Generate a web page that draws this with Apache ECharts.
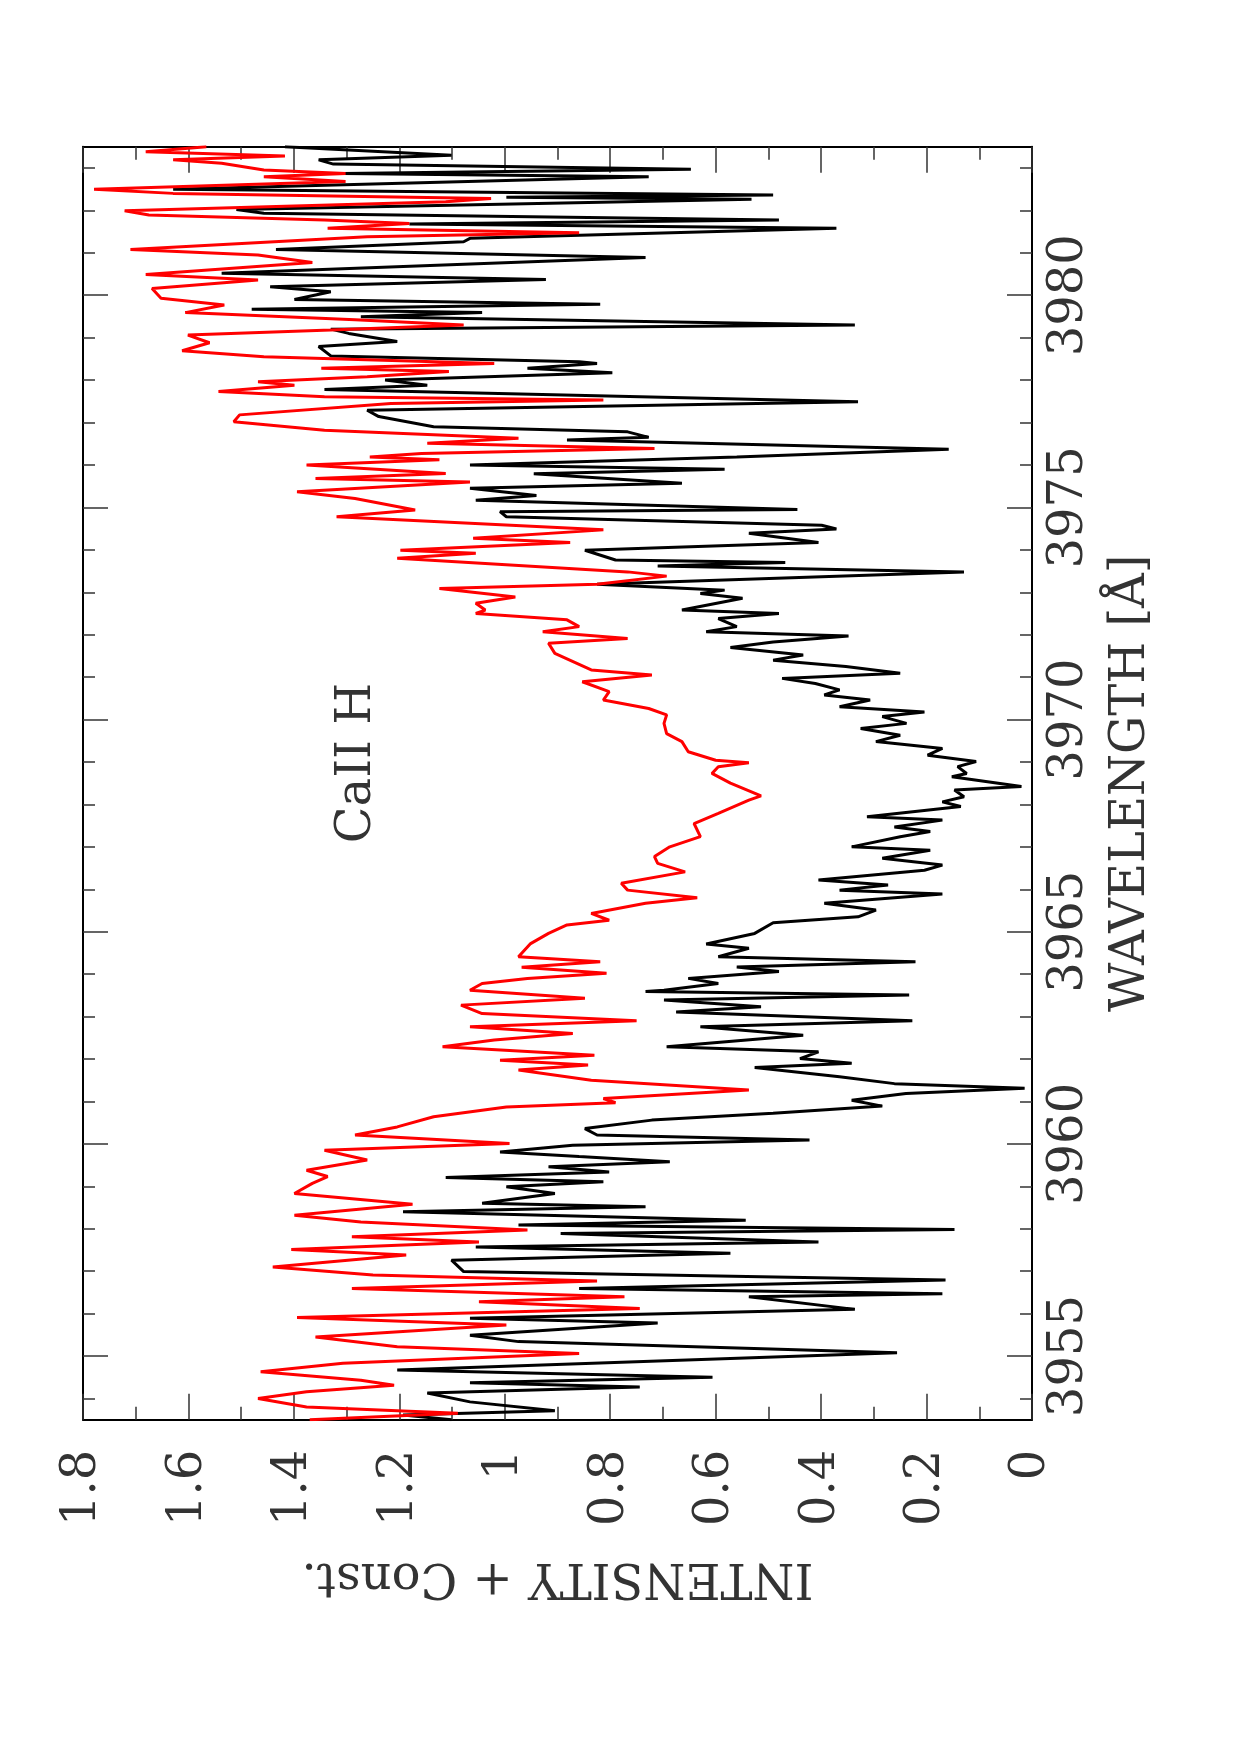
<!DOCTYPE html>
<html>
<head>
<meta charset="utf-8">
<script src="https://cdn.jsdelivr.net/npm/echarts@6/dist/echarts.min.js"></script>
<style>
html,body{margin:0;padding:0;background:#fff;}
#chart{width:1240px;height:1755px;}
</style>
</head>
<body>
<div id="chart"></div>
<script>
// ---- data (wavelength in Angstrom, intensity + const.) ----
const wavelengthBlack = [3983.50,3983.30,3983.19,3983.09,3982.97,3982.87,3982.79,3982.50,3982.36,3982.31,3982.26,3982.02,3981.93,3981.77,3981.68,3981.58,3981.34,3981.26,3981.08,3980.89,3980.52,3980.37,3980.20,3980.08,3979.90,3979.79,3979.67,3979.59,3979.49,3979.30,3979.20,3979.10,3978.91,3978.79,3978.57,3978.43,3978.39,3978.28,3978.17,3978.00,3977.88,3977.78,3977.49,3977.29,3977.14,3976.90,3976.78,3976.65,3976.59,3976.37,3976.19,3976.00,3975.90,3975.79,3975.57,3975.45,3975.28,3975.17,3974.95,3974.90,3974.78,3974.58,3974.49,3974.39,3974.17,3973.99,3973.76,3973.70,3973.62,3973.48,3973.19,3973.05,3972.97,3972.86,3972.58,3972.50,3972.38,3972.19,3972.07,3971.97,3971.83,3971.70,3971.52,3971.40,3971.25,3971.09,3970.97,3970.85,3970.70,3970.58,3970.46,3970.30,3970.18,3970.07,3969.91,3969.79,3969.63,3969.48,3969.32,3969.16,3969.01,3968.89,3968.73,3968.65,3968.42,3968.34,3968.18,3968.06,3967.95,3967.71,3967.63,3967.47,3967.36,3967.24,3967.00,3966.92,3966.73,3966.57,3966.45,3966.22,3966.10,3965.98,3965.89,3965.67,3965.51,3965.35,3965.21,3964.96,3964.71,3964.61,3964.41,3964.29,3964.17,3964.06,3963.90,3963.78,3963.62,3963.59,3963.51,3963.39,3963.23,3963.11,3962.90,3962.76,3962.56,3962.29,3962.17,3962.01,3961.90,3961.80,3961.58,3961.42,3961.31,3961.19,3961.03,3960.89,3960.72,3960.56,3960.36,3960.21,3960.09,3959.97,3959.81,3959.70,3959.58,3959.46,3959.34,3959.21,3959.11,3958.99,3958.83,3958.60,3958.52,3958.40,3958.20,3958.09,3957.98,3957.89,3957.69,3957.57,3957.42,3957.26,3956.99,3956.79,3956.59,3956.47,3956.40,3956.10,3955.89,3955.78,3955.49,3955.34,3955.08,3954.67,3954.50,3954.37,3954.27,3954.13,3953.92,3953.71,3953.61,3953.50];
const intensityBlack = [1.417,1.101,1.353,1.325,0.647,1.307,0.727,1.629,0.491,0.997,0.532,1.509,1.457,0.480,1.181,0.371,1.066,1.078,1.434,0.733,1.537,0.922,1.445,1.330,1.399,0.819,1.480,1.043,1.273,0.336,1.330,1.296,1.204,1.353,1.330,0.859,0.825,0.957,0.796,1.227,1.147,1.342,0.330,1.261,1.239,1.135,0.767,0.727,0.882,0.158,0.560,1.066,0.583,0.945,0.664,1.066,0.940,1.055,0.445,1.009,0.997,0.399,0.371,0.537,0.405,0.848,0.790,0.468,0.710,0.129,0.825,0.583,0.629,0.549,0.664,0.480,0.595,0.560,0.618,0.348,0.491,0.572,0.434,0.491,0.353,0.250,0.474,0.411,0.365,0.394,0.307,0.365,0.204,0.284,0.238,0.325,0.250,0.296,0.170,0.198,0.106,0.141,0.124,0.152,0.020,0.147,0.129,0.170,0.135,0.313,0.170,0.261,0.193,0.250,0.342,0.193,0.284,0.170,0.204,0.405,0.273,0.365,0.170,0.394,0.296,0.330,0.491,0.526,0.618,0.537,0.595,0.221,0.560,0.480,0.652,0.595,0.698,0.733,0.233,0.698,0.514,0.675,0.227,0.629,0.434,0.693,0.405,0.440,0.342,0.526,0.365,0.261,0.014,0.239,0.342,0.284,0.491,0.721,0.848,0.825,0.422,0.871,1.009,0.859,0.687,0.917,0.802,1.112,0.813,0.997,0.905,1.043,0.733,1.193,0.543,0.974,0.147,0.894,0.405,1.055,0.572,1.101,1.078,0.164,0.859,0.170,0.537,0.336,1.066,0.710,1.066,0.974,0.256,1.204,0.606,1.066,0.744,1.147,1.066,0.905,1.193,1.101];

const wavelengthRed = [3983.50,3983.38,3983.28,3983.19,3983.11,3982.95,3982.87,3982.79,3982.68,3982.50,3982.40,3982.28,3982.20,3981.99,3981.89,3981.77,3981.69,3981.58,3981.47,3981.38,3981.08,3980.95,3980.77,3980.49,3980.36,3980.16,3979.93,3979.77,3979.59,3979.42,3979.30,3979.18,3979.06,3978.88,3978.69,3978.55,3978.39,3978.28,3978.20,3978.08,3977.96,3977.88,3977.73,3977.61,3977.53,3977.45,3977.18,3977.02,3976.82,3976.63,3976.51,3976.39,3976.27,3976.19,3976.12,3976.00,3975.80,3975.68,3975.60,3975.37,3975.21,3974.94,3974.78,3974.47,3974.27,3974.17,3973.99,3973.92,3973.80,3973.48,3973.38,3973.19,3973.09,3972.89,3972.74,3972.58,3972.50,3972.35,3972.19,3972.07,3971.91,3971.80,3971.56,3971.17,3971.05,3970.89,3970.66,3970.46,3970.26,3970.11,3969.91,3969.67,3969.48,3969.24,3969.04,3968.98,3968.89,3968.73,3968.50,3968.20,3968.10,3967.79,3967.55,3967.24,3967.00,3966.77,3966.61,3966.41,3966.14,3965.98,3965.80,3965.67,3965.43,3965.27,3965.16,3964.96,3964.72,3964.41,3964.29,3964.16,3964.02,3963.90,3963.78,3963.62,3963.43,3963.27,3963.07,3962.90,3962.76,3962.60,3962.45,3962.29,3962.09,3961.97,3961.86,3961.74,3961.50,3961.27,3961.07,3960.97,3960.87,3960.64,3960.40,3960.21,3960.01,3959.85,3959.62,3959.38,3959.23,3959.07,3958.83,3958.58,3958.32,3958.16,3957.97,3957.81,3957.69,3957.51,3957.38,3957.10,3956.91,3956.77,3956.59,3956.40,3956.28,3956.12,3955.91,3955.73,3955.45,3955.22,3955.06,3954.83,3954.63,3954.43,3954.31,3954.16,3954.00,3953.80,3953.65,3953.50];
const intensityRed = [1.566,1.681,1.417,1.629,1.537,1.457,1.302,1.457,1.302,1.779,1.629,1.026,1.112,1.721,1.675,1.342,1.181,1.336,0.859,1.261,1.710,1.468,1.365,1.681,1.468,1.669,1.652,1.532,1.606,1.284,1.078,1.330,1.601,1.560,1.612,1.457,1.020,1.348,1.106,1.261,1.468,1.399,1.543,1.342,0.813,1.216,1.503,1.514,1.342,0.974,1.147,0.716,1.158,1.256,1.124,1.376,1.112,1.359,1.066,1.394,1.284,1.170,1.319,0.813,1.060,0.876,1.198,1.055,1.204,0.767,0.693,0.825,1.124,0.980,1.055,1.037,1.055,0.882,0.859,0.928,0.767,0.917,0.905,0.836,0.721,0.853,0.802,0.813,0.727,0.693,0.698,0.693,0.664,0.652,0.600,0.537,0.595,0.607,0.572,0.514,0.537,0.595,0.641,0.629,0.687,0.716,0.710,0.658,0.779,0.767,0.635,0.733,0.836,0.802,0.882,0.917,0.951,0.974,0.819,0.968,0.807,0.957,1.043,1.066,0.848,1.083,1.043,0.750,1.066,0.871,1.020,1.118,0.830,1.009,0.842,0.974,0.836,0.537,0.813,0.790,0.997,1.135,1.204,1.284,0.991,1.342,1.261,1.376,1.336,1.365,1.399,1.175,1.399,1.273,0.957,1.290,1.049,1.405,1.187,1.440,1.250,0.825,1.290,0.773,1.049,0.744,1.394,0.997,1.359,1.204,0.859,1.307,1.463,1.273,1.210,1.376,1.468,1.376,1.089,1.370];

// ---- axis ticks ----
const wavelengthTicks = [3955, 3960, 3965, 3970, 3975, 3980];
const wavelengthMinorTicks = [3954,3955,3956,3957,3958,3959,3960,3961,3962,3963,3964,3965,3966,3967,3968,3969,3970,3971,3972,3973,3974,3975,3976,3977,3978,3979,3980,3981,3982,3983];
const wavelengthRange = [3953.5, 3983.5];
const intensityRange = [0, 1.8];
const intensityStep = 0.2;

const titleText = 'CaII H';
const xName = 'INTENSITY + Const.';
const yName = 'WAVELENGTH [Å]';

const FONT = '"DejaVu Serif", "Liberation Serif", serif';
const TXT = '#333';
const lineCol = '#000';
const tickCol = '#333';

const blackData = wavelengthBlack.map((w, i) => [intensityBlack[i], w]);
const redData = wavelengthRed.map((w, i) => [intensityRed[i], w]);

const chart = echarts.init(document.getElementById('chart'), null, {renderer: 'canvas'});

function xAx(pos, withLabels) {
  return {
    type: 'value', position: pos, min: intensityRange[0], max: intensityRange[1],
    interval: intensityStep, inverse: true,
    axisLine: {show: true, onZero: false, lineStyle: {color: lineCol, width: 2}},
    axisTick: {show: true, inside: true, length: 26, lineStyle: {color: tickCol, width: 1.5}},
    minorTick: {show: true, splitNumber: 2, length: 13, lineStyle: {color: tickCol, width: 1.5}},
    splitLine: {show: false}, minorSplitLine: {show: false},
    axisLabel: withLabels ? {show: true, rotate: 90, margin: 30, fontFamily: FONT, fontSize: 48, color: TXT,
      showMinLabel: true, showMaxLabel: true, formatter: v => String(Math.round(v * 10) / 10)} : {show: false},
    name: withLabels ? xName : '', nameLocation: 'middle', nameRotate: 180, nameGap: 133,
    nameTextStyle: {fontFamily: FONT, fontSize: 48, color: TXT}
  };
}
function yAx(pos, ticks, len, withLabels, showLine) {
  return {
    type: 'value', position: pos, min: wavelengthRange[0], max: wavelengthRange[1],
    axisLine: {show: showLine, onZero: false, lineStyle: {color: lineCol, width: 2}},
    axisTick: {show: true, inside: true, length: len, customValues: ticks, lineStyle: {color: tickCol, width: 1.5}},
    splitLine: {show: false},
    axisLabel: withLabels ? {show: true, rotate: 90, margin: 14, customValues: ticks, fontFamily: FONT, fontSize: 48,
      color: TXT, formatter: v => String(v)} : {show: false},
    name: withLabels ? yName : '', nameLocation: 'middle', nameGap: 76,
    nameTextStyle: {fontFamily: FONT, fontSize: 48, color: TXT}
  };
}

chart.setOption({
  animation: false,
  backgroundColor: '#fff',
  grid: {left: 83, right: 208, top: 146.7, bottom: 335.3, show: false, containLabel: false},
  xAxis: [xAx('bottom', true), xAx('top', false)],
  yAxis: [
    yAx('right', wavelengthTicks, 25, true, true),
    yAx('right', wavelengthMinorTicks, 12, false, false),
    yAx('left', wavelengthTicks, 25, false, true),
    yAx('left', wavelengthMinorTicks, 12, false, false)
  ],
  series: [
    {type: 'line', name: 'black', xAxisIndex: 0, yAxisIndex: 0, data: blackData, showSymbol: false, symbol: 'none',
     lineStyle: {color: '#000', width: 3}, z: 3},
    {type: 'line', name: 'red', xAxisIndex: 0, yAxisIndex: 0, data: redData, showSymbol: false, symbol: 'none',
     lineStyle: {color: '#ff0000', width: 3}, z: 4}
  ],
  graphic: [{
    type: 'text', x: 358, y: 763, rotation: Math.PI / 2,
    style: {text: titleText, fontFamily: FONT, fontSize: 48, fill: TXT, align: 'center', verticalAlign: 'middle'}
  }]
});
</script>
</body>
</html>
